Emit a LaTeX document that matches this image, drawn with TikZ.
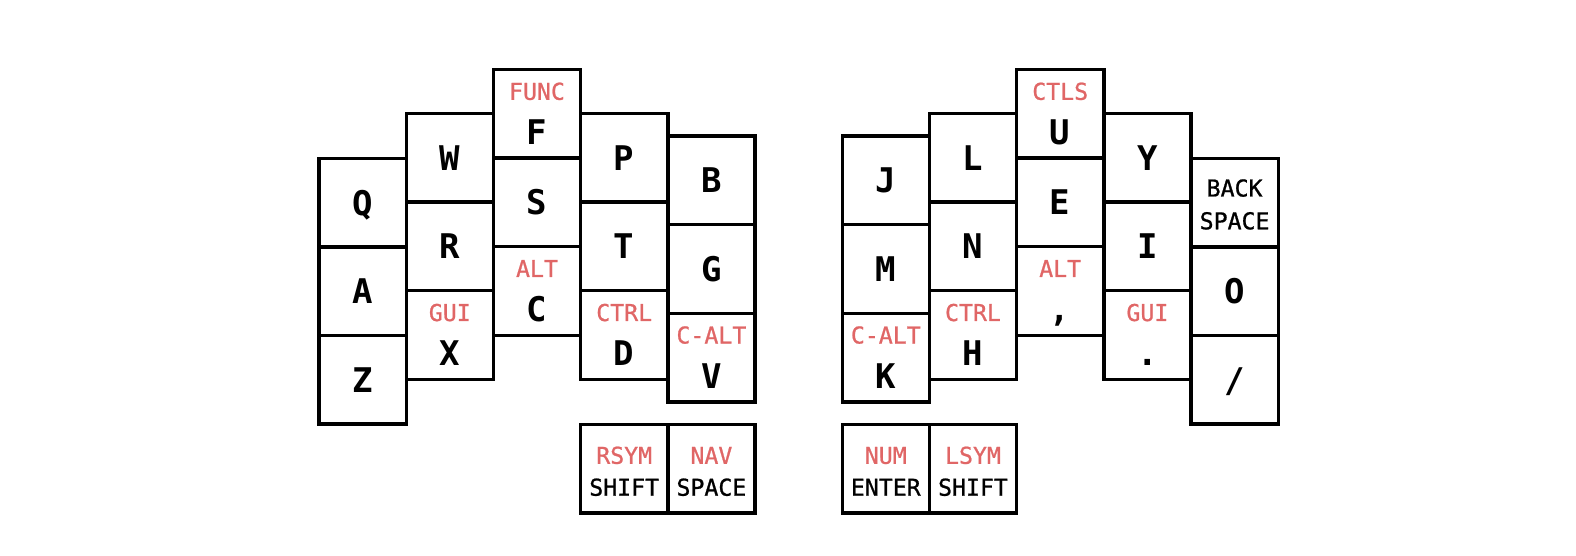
\documentclass[tikz,border=0pt]{standalone}
\usepackage{fontspec}
\newfontfamily\keyfont{DejaVu Sans Mono}
\newfontfamily\holdfont[FakeBold=0.9]{DejaVu Sans Mono}
\definecolor{holdred}{RGB}{224,102,102}
\tikzstyle{keybox} = [rectangle, draw=black, line width=1.7pt, minimum width=43.6pt, minimum height=44.3pt, inner sep=0pt, font=\keyfont\bfseries\fontsize{17}{17}\selectfont, text height=12.4pt, text depth=0pt]
\tikzstyle{tap} = [inner sep=0pt, font=\keyfont\bfseries\fontsize{17}{17}\selectfont, text height=12.4pt, text depth=0pt]
\tikzstyle{hold} = [inner sep=0pt, font=\holdfont\fontsize{11.6}{11.6}\selectfont, text=holdred, text height=8.5pt, text depth=0pt]
\tikzstyle{word} = [hold, text=black]

\begin{document}
\begin{tikzpicture}[x=0.5pt, y=-0.5pt]
	\useasboundingbox (0,0) rectangle (1576,556);
	% left hand
	\node (q) at (362.6, 202.6) [keybox] {Q};
	\node (a) at (362.6, 291.2) [keybox] {A};
	\node (z) at (362.6, 379.8) [keybox] {Z};
	\node (w) at (449.8, 157.8) [keybox] {W};
	\node (r) at (449.8, 246.4) [keybox] {R};
	\node (x) at (449.8, 335.0) [keybox] {};
	\node (x-hold) at ([yshift=11.25pt]x.center) [hold] {GUI};
	\node (x-tap) at ([yshift=-9.25pt]x.center) [tap] {X};
	\node (f) at (537.0, 113.8) [keybox] {};
	\node (f-hold) at ([yshift=11.25pt]f.center) [hold] {FUNC};
	\node (f-tap) at ([yshift=-9.25pt]f.center) [tap] {F};
	\node (s) at (537.0, 202.4) [keybox] {S};
	\node (c) at (537.0, 291.0) [keybox] {};
	\node (c-hold) at ([yshift=11.25pt]c.center) [hold] {ALT};
	\node (c-tap) at ([yshift=-9.25pt]c.center) [tap] {C};
	\node (p) at (624.2, 157.8) [keybox] {P};
	\node (t) at (624.2, 246.4) [keybox] {T};
	\node (d) at (624.2, 335.0) [keybox] {};
	\node (d-hold) at ([yshift=11.25pt]d.center) [hold] {CTRL};
	\node (d-tap) at ([yshift=-9.25pt]d.center) [tap] {D};
	\node (b) at (711.4, 180.3) [keybox] {B};
	\node (g) at (711.4, 268.9) [keybox] {G};
	\node (v) at (711.4, 357.5) [keybox] {};
	\node (v-hold) at ([yshift=11.25pt]v.center) [hold] {C-ALT};
	\node (v-tap) at ([yshift=-9.25pt]v.center) [tap] {V};
	% left thumbs
	\node (rsym) at (624.2, 468.5) [keybox] {};
	\node (rsym-hold) at ([yshift=6.6pt]rsym.center) [hold] {RSYM};
	\node (rsym-tap) at ([yshift=-9.35pt]rsym.center) [word] {SHIFT};
	\node (nav) at (711.4, 468.5) [keybox] {};
	\node (nav-hold) at ([yshift=6.6pt]nav.center) [hold] {NAV};
	\node (nav-tap) at ([yshift=-9.35pt]nav.center) [word] {SPACE};
	% right hand
	\node (j) at (885.8, 180.3) [keybox] {J};
	\node (m) at (885.8, 268.9) [keybox] {M};
	\node (k) at (885.8, 357.5) [keybox] {};
	\node (k-hold) at ([yshift=11.25pt]k.center) [hold] {C-ALT};
	\node (k-tap) at ([yshift=-9.25pt]k.center) [tap] {K};
	\node (l) at (973.0, 157.8) [keybox] {L};
	\node (n) at (973.0, 246.4) [keybox] {N};
	\node (h) at (973.0, 335.0) [keybox] {};
	\node (h-hold) at ([yshift=11.25pt]h.center) [hold] {CTRL};
	\node (h-tap) at ([yshift=-9.25pt]h.center) [tap] {H};
	\node (u) at (1060.2, 113.8) [keybox] {};
	\node (u-hold) at ([yshift=11.25pt]u.center) [hold] {CTLS};
	\node (u-tap) at ([yshift=-9.25pt]u.center) [tap] {U};
	\node (e) at (1060.2, 202.4) [keybox] {E};
	\node (comma) at (1060.2, 291.0) [keybox] {};
	\node (comma-hold) at ([yshift=11.25pt]comma.center) [hold] {ALT};
	\node (comma-tap) at ([yshift=-9.25pt]comma.center) [tap] {,};
	\node (y) at (1147.4, 157.8) [keybox] {Y};
	\node (i) at (1147.4, 246.4) [keybox] {I};
	\node (dot) at (1147.4, 335.0) [keybox] {};
	\node (dot-hold) at ([yshift=11.25pt]dot.center) [hold] {GUI};
	\node (dot-tap) at ([yshift=-9.25pt]dot.center) [tap] {.};
	\node (bspc) at (1234.6, 202.6) [keybox] {};
	\node (bspc-top) at ([yshift=7.3pt]bspc.center) [word] {BACK};
	\node (bspc-bot) at ([yshift=-9.1pt]bspc.center) [word] {SPACE};
	\node (o) at (1234.6, 291.2) [keybox] {O};
	\node (slash) at (1234.6, 379.8) [keybox] {/};
	% right thumbs
	\node (num) at (885.8, 468.5) [keybox] {};
	\node (num-hold) at ([yshift=6.6pt]num.center) [hold] {NUM};
	\node (num-tap) at ([yshift=-9.35pt]num.center) [word] {ENTER};
	\node (lsym) at (973.0, 468.5) [keybox] {};
	\node (lsym-hold) at ([yshift=6.6pt]lsym.center) [hold] {LSYM};
	\node (lsym-tap) at ([yshift=-9.35pt]lsym.center) [word] {SHIFT};
\end{tikzpicture}
\end{document}
